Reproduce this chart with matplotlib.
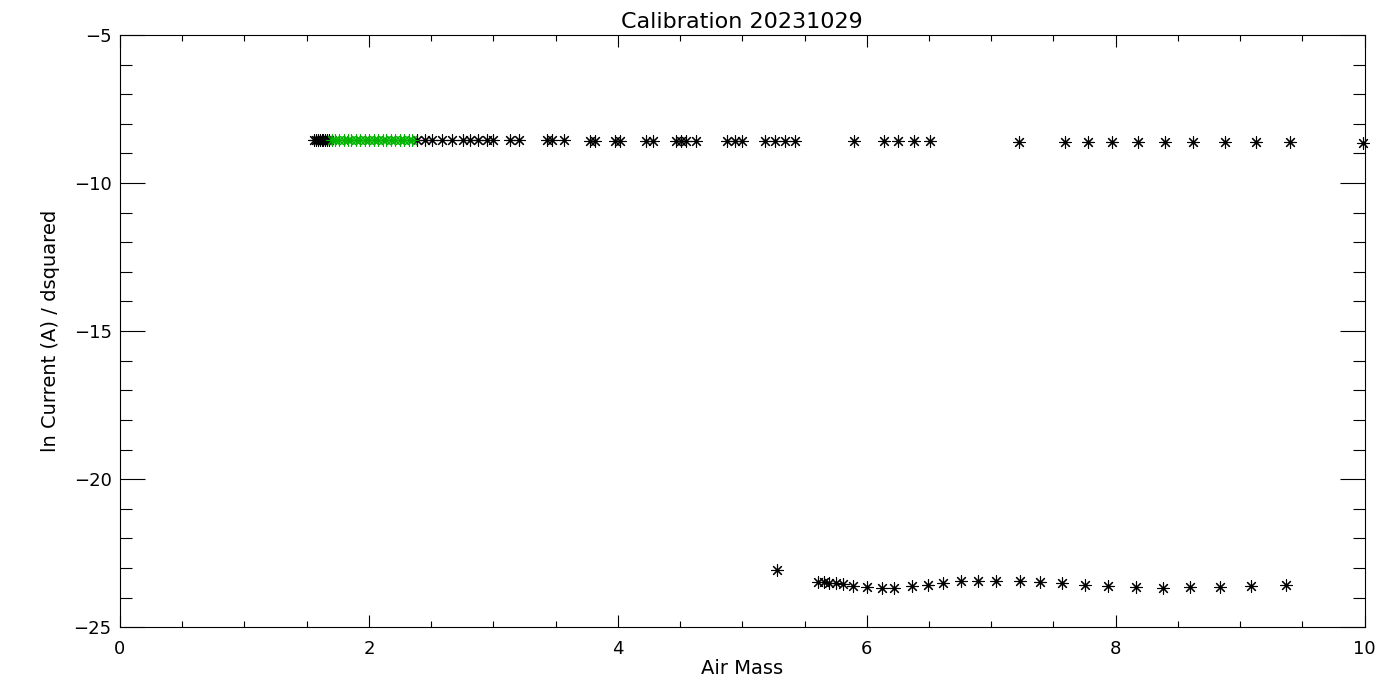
import numpy as np
import matplotlib
matplotlib.use("Agg")
import matplotlib.pyplot as plt
from matplotlib.ticker import MultipleLocator

# upper branch (black asterisks)
upper_x = [1.56, 1.575, 1.59, 1.605, 1.62, 1.635, 1.65, 1.665, 1.68,
           2.39, 2.45, 2.51, 2.59, 2.67, 2.76, 2.81, 2.88, 2.95, 3.00,
           3.13, 3.21, 3.43, 3.47, 3.57, 3.78, 3.82, 3.98, 4.02, 4.23, 4.28,
           4.47, 4.51, 4.55, 4.63, 4.88, 4.94, 5.00, 5.18, 5.26, 5.34, 5.42,
           5.90, 6.14, 6.25, 6.38, 6.51, 7.22, 7.59, 7.78, 7.97, 8.18, 8.40,
           8.62, 8.88, 9.13, 9.40, 9.99]
upper_y = [-8.55, -8.55, -8.55, -8.55, -8.55, -8.55, -8.55, -8.55, -8.55,
           -8.55, -8.55, -8.55, -8.55, -8.55, -8.55, -8.55, -8.55, -8.55, -8.55,
           -8.55, -8.55, -8.56, -8.56, -8.56, -8.57, -8.57, -8.57, -8.57, -8.57, -8.57,
           -8.57, -8.57, -8.57, -8.57, -8.58, -8.58, -8.58, -8.58, -8.58, -8.58, -8.58,
           -8.58, -8.58, -8.59, -8.59, -8.59, -8.60, -8.60, -8.60, -8.60, -8.60, -8.61,
           -8.61, -8.61, -8.62, -8.63, -8.64]

# selected points (green)
green_x = [1.70, 1.73, 1.76, 1.80, 1.83, 1.86, 1.90, 1.93, 1.97, 2.00,
           2.04, 2.07, 2.11, 2.14, 2.18, 2.21, 2.25, 2.28, 2.32, 2.35]
green_y = [-8.55] * len(green_x)

# lower branch (black asterisks)
lower_x = [5.28, 5.61, 5.66, 5.70, 5.75, 5.81, 5.89, 6.00, 6.12, 6.22,
           6.36, 6.49, 6.61, 6.76, 6.89, 7.04, 7.23, 7.39, 7.57, 7.75,
           7.94, 8.16, 8.38, 8.60, 8.84, 9.09, 9.37]
lower_y = [-23.07, -23.48, -23.48, -23.50, -23.51, -23.55, -23.62, -23.65, -23.68, -23.66,
           -23.62, -23.58, -23.52, -23.45, -23.44, -23.44, -23.44, -23.48, -23.52, -23.58,
           -23.61, -23.65, -23.68, -23.65, -23.65, -23.62, -23.58]

plt.rcParams["font.family"] = ["DejaVu Sans"]

fig = plt.figure(figsize=(14, 7), dpi=100)
ax = fig.add_axes([0.0857, 0.104, 0.889, 0.846])

star = (8, 2, 0)
kw = dict(marker=star, s=70, linewidths=0.8, clip_on=False)
ax.scatter(upper_x, upper_y, color="black", **kw)
ax.scatter(lower_x, lower_y, color="black", **kw)
ax.scatter(green_x, green_y, color="#00b400", **kw)

ax.set_xlim(0, 10)
ax.set_ylim(-25, -5)
ax.xaxis.set_major_locator(MultipleLocator(2))
ax.xaxis.set_minor_locator(MultipleLocator(0.5))
ax.yaxis.set_major_locator(MultipleLocator(5))
ax.yaxis.set_minor_locator(MultipleLocator(1))

ax.tick_params(axis="both", which="both", direction="in", top=True, right=True,
               width=0.8, labelsize=13, colors="black")
ax.tick_params(axis="x", which="major", length=8.6, pad=9)
ax.tick_params(axis="x", which="minor", length=4.3)
ax.tick_params(axis="y", which="major", length=18, pad=6)
ax.tick_params(axis="y", which="minor", length=8.6)
for sp in ax.spines.values():
    sp.set_linewidth(0.8)

ax.set_title("Calibration 20231029", fontsize=16, pad=5)
ax.set_xlabel("Air Mass", fontsize=14, labelpad=1)
ax.set_ylabel("ln Current (A) / dsquared", fontsize=14, labelpad=10)

fig.savefig("out.png", dpi=100)
